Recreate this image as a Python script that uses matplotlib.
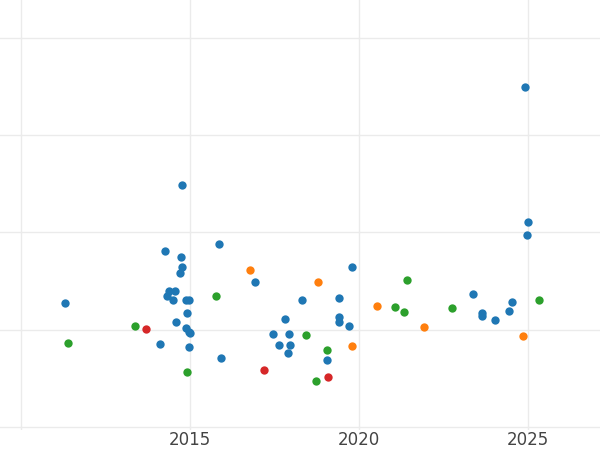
import matplotlib
matplotlib.use("Agg")
import matplotlib.pyplot as plt

blue_x = [2011.30,2024.91,2014.76,2025.00,2024.97,2015.86,2014.26,2014.73,2014.76,2014.70,2016.92,2019.79,
          2014.38,2014.56,2014.32,2014.50,2014.88,2014.97,2018.31,2019.41,2023.37,2024.53,2014.91,2023.64,
          2023.64,2017.81,2019.41,2014.59,2019.41,2019.70,2024.02,2024.44,2014.88,2014.97,2015.00,2017.46,
          2017.93,2014.11,2014.97,2017.63,2017.96,2017.90,2015.92,2019.05]
blue_y = [0.27,2.50,1.49,1.11,0.97,0.88,0.81,0.75,0.64,0.58,0.49,0.64,
          0.40,0.40,0.35,0.30,0.30,0.30,0.30,0.32,0.37,0.28,0.17,0.17,
          0.14,0.11,0.13,0.08,0.08,0.04,0.10,0.19,0.02,-0.02,-0.04,-0.05,
          -0.05,-0.15,-0.18,-0.16,-0.16,-0.24,-0.29,-0.31]
orange_x = [2016.78,2018.79,2020.53,2021.92,2024.85,2019.79]
orange_y = [0.61,0.49,0.24,0.03,-0.07,-0.17]
green_x = [2013.37,2011.39,2015.77,2021.42,2021.07,2021.33,2022.75,2025.33,2018.43,2019.05,2014.91,2018.73]
green_y = [0.04,-0.14,0.35,0.51,0.23,0.18,0.22,0.30,-0.06,-0.21,-0.44,-0.53]
red_x = [2013.70,2017.19,2019.08]
red_y = [0.01,-0.42,-0.49]

fig = plt.figure(figsize=(6, 4.5), dpi=100)
ax = fig.add_axes([0, 0.045, 1, 0.955])
for xs, ys, c in [(blue_x, blue_y, "#1f77b4"), (orange_x, orange_y, "#ff7f0e"),
                  (green_x, green_y, "#2ca02c"), (red_x, red_y, "#d62728")]:
    ax.scatter(xs, ys, s=36, color=c, zorder=3, linewidths=0)
ax.set_xlim(2009.38, 2027.13)
ax.set_ylim(-1.03, 3.39)
ax.set_xticks([2010, 2015, 2020, 2025])
ax.set_xticklabels(["", "2015", "2020", "2025"], fontsize=12, color="#444444")
ax.set_yticks([-1, 0, 1, 2, 3])
ax.set_yticklabels([])
ax.grid(True, color="#ebebeb", linewidth=1)
ax.tick_params(length=0, pad=1)
for s in ax.spines.values():
    s.set_visible(False)
fig.savefig("out.png")
